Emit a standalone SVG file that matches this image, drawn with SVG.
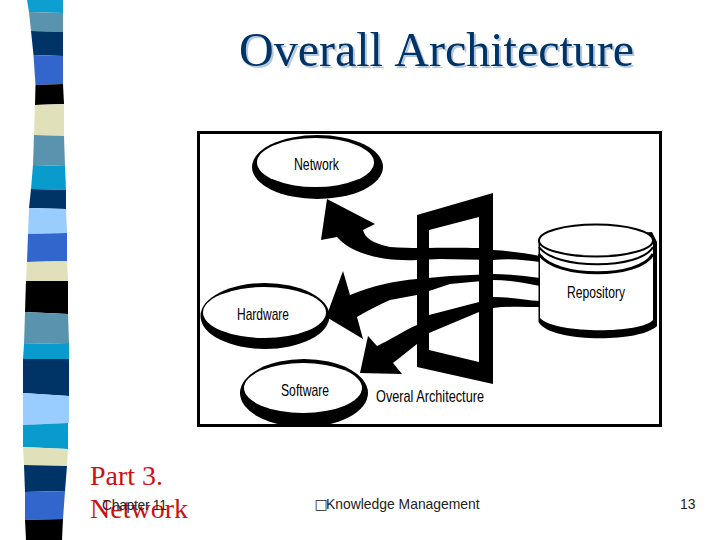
<svg xmlns="http://www.w3.org/2000/svg" width="720" height="540" viewBox="0 0 720 540">
<style>
.k{fill:#000}
.w{fill:#fff}
.lbl{font-family:"Liberation Sans",Arial,sans-serif;font-size:17px;fill:#000}
.ser{font-family:"Liberation Serif","Times New Roman",serif}
.foot{font-family:"Liberation Sans","DejaVu Sans",Arial,sans-serif;font-size:13.900px;fill:#222}
.red{font-size:28px;fill:#cc1111}
</style>
<rect width="720" height="540" fill="#fff"/>
<g id="strip">
<polygon fill="#0d9fd0" points="27,0 63,0 63,13 29,12"/>
<polygon fill="#5a93ad" points="29,12 63,13 63,32 31,31"/>
<polygon fill="#003366" points="31,31 63,32 63,56 33.500,55"/>
<polygon fill="#3366cc" points="33.500,55 63,56 63,84 35.500,85"/>
<polygon fill="#000" points="35.500,85 63,84 64,104 35,105"/>
<polygon fill="#e0e0bb" points="35,105 64,104 64,136 34,135"/>
<polygon fill="#5a93ad" points="34,135 64,136 65,166 33,165"/>
<polygon fill="#0a9bcd" points="33,165 65,166 66,190 31,189"/>
<polygon fill="#003366" points="31,189 66,190 66,209 29,208"/>
<polygon fill="#99ccff" points="29,208 66,209 67,233 28,234"/>
<polygon fill="#3366cc" points="28,234 67,233 67,261 27,262"/>
<polygon fill="#e0e0bb" points="27,262 67,261 68,281 26,281"/>
<polygon fill="#000" points="26,281 68,281 68,314 25,312"/>
<polygon fill="#5a93ad" points="25,312 68,314 69,343 24,344"/>
<polygon fill="#0a9bcd" points="24,344 69,343 69,359 23,359"/>
<polygon fill="#003366" points="23,359 69,359 69,396 23,393"/>
<polygon fill="#99ccff" points="23,393 69,396 69,423 23,425"/>
<polygon fill="#0a9bcd" points="23,425 68,423 68,449 23,447"/>
<polygon fill="#e0e0bb" points="23,447 68,449 67,466 24,465"/>
<polygon fill="#003366" points="24,465 67,466 65,491 25,492"/>
<polygon fill="#3366cc" points="25,492 65,491 63,519 25,520"/>
<polygon fill="#000" points="25,520 63,519 62,540 26,540"/>
</g>
<text id="title" x="239" y="66" class="ser" font-size="48" word-spacing="2" fill="#003366" style="filter:drop-shadow(2px 2px 0 #b4c8e0)">Overall Architecture</text>
<rect id="frame" x="198.500" y="132.500" width="462" height="293" fill="#fff" stroke="#000" stroke-width="3"/>
<g id="connectors">
<path id="flow-network" class="k" d="M327,199 L375,224 L363,230 C365,238 372,243 390,247 C420,249 440,247 479,248 L493,250 C510,251 525,253 540,256 L540,262 C525,260 510,258 493,260 L440,259 L417,260 C395,261 377,258 365,254 C353,250 344,245 337,237 L321,240 Z"/>
<path id="flow-hardware" class="k" d="M328,312 L343,271 L350,295 C375,285 395,281 417,279 L450,276 L493,274 C510,274 525,276 540,278 L540,286 C525,283 510,280 493,280 L450,284 L417,295 L390,300 C378,305 367,311 357,317 L363,339 L328,318 Z"/>
<path id="flow-software" class="k" d="M360,373 L368,336 L377,346 C390,340 405,330 417,325 L429,315 L479,302 L493,297 C510,297 525,300 540,301 L540,307 C525,307 510,306 493,308 L479,312 L429,333 L417,344 L393,363 L402,374 Z"/>
</g>
<g id="node-gate">
<path class="k" fill-rule="evenodd" d="M417,215 L493,193 L493,384 L417,367 Z M429,230 L479,217 L479,362 L429,350 Z"/>
</g>
<g id="node-network">
<ellipse class="k" cx="317.500" cy="167" rx="65.500" ry="32"/>
<ellipse class="w" cx="315.500" cy="162.500" rx="58.500" ry="24.500"/>
<text class="lbl" x="294" y="170" textLength="45" lengthAdjust="spacingAndGlyphs">Network</text>
</g>
<g id="node-hardware">
<ellipse class="k" cx="265" cy="316" rx="64.500" ry="33"/>
<ellipse class="w" cx="264.500" cy="312.500" rx="61.500" ry="25.500"/>
<text class="lbl" x="237" y="320" textLength="52" lengthAdjust="spacingAndGlyphs">Hardware</text>
</g>
<g id="node-software">
<ellipse class="k" cx="304" cy="393" rx="64" ry="34"/>
<ellipse class="w" cx="303" cy="388" rx="59" ry="25"/>
<text class="lbl" x="281" y="396" textLength="48" lengthAdjust="spacingAndGlyphs">Software</text>
</g>
<g id="node-repository">
<path class="k" d="M538.500,240 V322 C550,343 640,343 657,326 V242 L652,232 Z"/>
<path class="w" d="M540,240 V318 C555,334 640,334 653,320 V240 Z"/>
<ellipse class="w" cx="596" cy="240.500" rx="57" ry="16" stroke="#000" stroke-width="2"/>
<path fill="none" stroke="#000" stroke-width="2" d="M539,247 C555,270 640,270 653,247"/>
<path fill="none" stroke="#000" stroke-width="3" d="M539,254 C555,279 640,279 653,254"/>
<text class="lbl" x="567" y="298" font-size="16" textLength="58" lengthAdjust="spacingAndGlyphs">Repository</text>
</g>
<text id="caption" class="lbl" x="376" y="402" textLength="108" lengthAdjust="spacingAndGlyphs">Overal Architecture</text>
<text class="ser red" x="90" y="485">Part 3.</text>
<text class="ser red" x="90" y="518">Network</text>
<text class="foot" x="102" y="510" textLength="65">Chapter 11</text>
<text class="foot" x="314.500" y="509"><tspan font-size="14" font-family="DejaVu Sans">□</tspan><tspan x="326">Knowledge Management</tspan></text>
<text class="foot" x="680" y="509">13</text>
</svg>
